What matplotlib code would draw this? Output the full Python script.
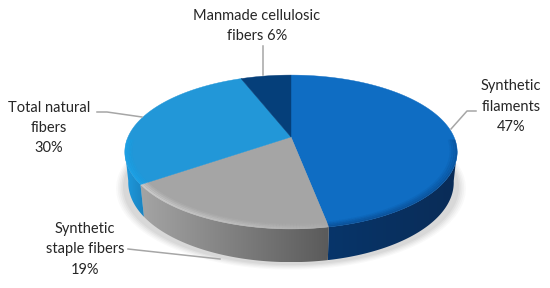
#!/usr/bin/env python3
"""3D-look pie of fiber shares, drawn in pixel space with a tilted-circle projection."""
import numpy as np
import matplotlib
matplotlib.use("Agg")
import matplotlib.pyplot as plt
from matplotlib.collections import LineCollection
from matplotlib.colors import to_rgb
from matplotlib.patches import Polygon

plt.rcParams.update({"font.family": ["Lato", "DejaVu Sans"]})

# clockwise from 12 o'clock; wedge sizes as measured (printed labels add up to 102)
categories = ["Synthetic filaments", "Synthetic staple fibers",
              "Total natural fibers", "Manmade cellulosic fibers"]
shares = [47.0, 18.3, 28.8, 5.9]
face_colors = ["#0F6DC3", "#A5A5A5", "#2297D8", "#053F7A"]
wall_left = ["#07356A", "#A4A4A4", "#1E9ADF", "#053F7A"]
wall_right = ["#0A2C57", "#5A5A5A", "#1A82BE", "#053F7A"]
rim_colors = ["#0A478A", "#E4E4E4", "#1CABF2", "#053F7A"]
# bevel strength at the clockwise start and end of each wedge
rim_fade = [(1.0, 1.0), (0.15, 1.0), (1.0, 1.0), (1.0, 1.0)]

CX, CY = 291, 137
A, B, K = 163, 74, 0.195
BOTTOM_R = 0.98
TEXT_C = "#262626"
LINE_C = "#A6A6A6"


def project(t, r=1.0, drop=0.0):
    """t in radians, clockwise from top. Front of the disc comes out bigger."""
    X, Y = r * np.sin(t), -r * np.cos(t)
    w = 1 - K * Y
    return CX + A * X / w, CY + B * Y / w + drop


def wall_drop(t):
    return 30 + 5.5 * np.clip(-np.cos(t), 0, 1)


fig = plt.figure(figsize=(5.5, 2.88), dpi=100)
ax = fig.add_axes([0, 0, 1, 1])
ax.set_xlim(0, 550)
ax.set_ylim(288, 0)
ax.axis("off")

edges = np.cumsum([0] + shares) / sum(shares) * 2 * np.pi
ALL_T = np.linspace(0, 2 * np.pi, 361)

# soft shadow under the disc
for grow, alpha in zip([1.05, 1.04, 1.03, 1.02, 1.01], [0.04, 0.05, 0.06, 0.07, 0.08]):
    sx, sy = project(ALL_T, r=grow, drop=35)
    ax.add_patch(Polygon(np.c_[sx, sy], closed=True, fc="#707070", ec="none",
                         alpha=alpha, zorder=1))

# outer wall, only the part facing us
VIS_LO, VIS_HI = np.radians(100), np.radians(260)
for i in range(len(shares)):
    lo, hi = max(edges[i], VIS_LO), min(edges[i + 1], VIS_HI)
    if lo >= hi:
        continue
    t = np.linspace(lo, hi, 80)
    x0, y0 = project(t)
    x1, y1 = project(t, r=BOTTOM_R, drop=wall_drop(t))
    poly = Polygon(np.r_[np.c_[x0, y0], np.c_[x1, y1][::-1]], closed=True,
                   fc="none", ec="none", transform=ax.transData)
    ax.add_patch(poly)
    c_l, c_r = np.array(to_rgb(wall_left[i])), np.array(to_rgb(wall_right[i]))
    grad = np.linspace(0, 1, 128)[None, :, None]
    img = ax.imshow(c_l * (1 - grad) + c_r * grad, aspect="auto", zorder=2,
                    extent=[min(x0.min(), x1.min()), max(x0.max(), x1.max()),
                            y1.max(), min(y0.min(), y1.min())],
                    interpolation="bilinear")
    img.set_clip_path(poly)
ax.set_xlim(0, 550)
ax.set_ylim(288, 0)

# top face
for i in range(len(shares)):
    t = np.linspace(edges[i], edges[i + 1], 120)
    x, y = project(t)
    cx0, cy0 = project(0.0, r=0.0)
    pts = np.r_[[[cx0, cy0]], np.c_[x, y]]
    ax.add_patch(Polygon(pts, closed=True, fc=face_colors[i], ec=face_colors[i],
                         lw=0.3, zorder=3))

# bevel along the front rim: stacked strokes fading inward
for i in range(len(shares)):
    lo, hi = max(edges[i], np.radians(92)), min(edges[i + 1], np.radians(268))
    if lo >= hi:
        continue
    t = np.linspace(lo, hi, 80)
    fade = np.linspace(rim_fade[i][0], rim_fade[i][1], len(t) - 1)
    rgb = to_rgb(rim_colors[i])
    for r, alpha, lw in [(0.965, 0.12, 2.2), (0.975, 0.2, 2.0),
                         (0.985, 0.35, 1.6), (0.995, 0.6, 1.2)]:
        x, y = project(t, r=r)
        pts = np.c_[x, y]
        segs = np.stack([pts[:-1], pts[1:]], axis=1)
        cols = [(*rgb, alpha * f) for f in fade]
        ax.add_collection(LineCollection(segs, colors=cols, linewidths=lw,
                                         capstyle="butt", zorder=4))

# leader lines
leaders = [
    ([262.5, 262.5], [46, 75]),
    ([451, 467, 476], [129, 111, 111]),
    ([97, 107, 142], [112, 112, 117]),
    ([128, 137, 220], [249, 250, 259]),
]
for lx, ly in leaders:
    ax.plot(lx, ly, color=LINE_C, lw=1.1, zorder=5)

# labels
labels = [
    (257, 16, "Manmade cellulosic"), (257, 36, "fibers 6%"),
    (511, 86, "Synthetic"), (511, 107, "filaments"), (511, 127, "47%"),
    (49, 108, "Total natural"), (49, 128, "fibers"), (49, 148, "30%"),
    (85, 229, "Synthetic"), (85, 249, "staple fibers"), (85, 270, "19%"),
]
for x, y, s in labels:
    ax.text(x, y, s, ha="center", va="center", fontsize=10.5, color=TEXT_C, zorder=6)

fig.savefig("out.png", dpi=100)
